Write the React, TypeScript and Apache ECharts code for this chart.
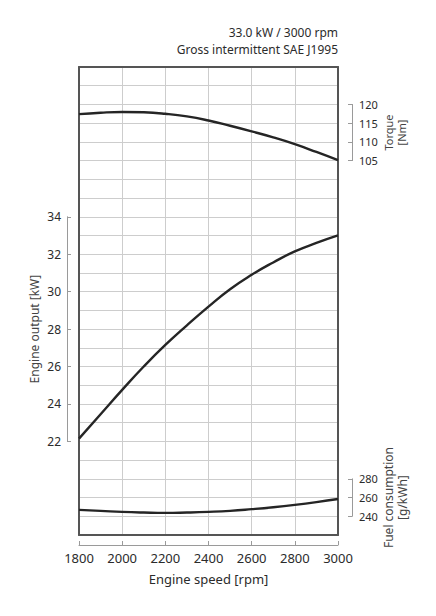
import React, { useEffect, useRef } from "react";
import * as echarts from "echarts";

const rpm = [1800, 1900, 2000, 2100, 2200, 2300, 2400, 2500, 2600, 2700, 2800, 2900, 3000];
const outputKW = [22.15, 23.45, 24.75, 26.0, 27.15, 28.2, 29.2, 30.13, 30.9, 31.56, 32.15, 32.6, 33.0];
const torqueNm = [117.4, 117.8, 118.0, 117.9, 117.5, 116.8, 115.7, 114.3, 112.8, 111.2, 109.4, 107.3, 105.1];
const fuelGkWh = [246.8, 245.8, 244.7, 244.0, 243.6, 244.0, 244.7, 245.8, 247.6, 249.7, 252.2, 255.1, 258.4];

const titleLines = ["33.0 kW / 3000 rpm", "Gross intermittent SAE J1995"];
const xTicks = { min: 1800, max: 3000, step: 200 };
const kwScale = { min: 17, max: 42, step: 1, labelMin: 22, labelMax: 34, labelStep: 2 };
const torqueScale = { min: 5, max: 130, step: 5, labelMin: 105, labelMax: 120, labelStep: 5 };
const fuelScale = { min: 220, max: 720, step: 20, labelMin: 240, labelMax: 280, labelStep: 20 };

const FONT = "Noto Sans";
const TXT = "#2b2b2b";
const LIGHT = "#9a9a9a";
const GRIDC = "#cdcdcd";
const FRAME = "#555";

export default function App() {
  const ref = useRef<HTMLDivElement>(null);
  useEffect(() => {
    if (!ref.current) return;
    const chart = echarts.init(ref.current, null, { renderer: "svg" });
    const gLeft = 79, gTop = 67, gW = 259, gH = 468;
    const steps = (kwScale.max - kwScale.min) / kwScale.step;
    const stepPx = gH / steps;
    const bracket = (s: any) => ({
      top: gTop + ((s.max - s.labelMax) / s.step) * stepPx,
      height: ((s.labelMax - s.labelMin) / s.step) * stepPx,
    });
    const kwB = bracket(kwScale);
    const tqB = bracket(torqueScale);
    const fuB = bracket(fuelScale);
    const hiddenX = (gi: number) => ({ type: "value", gridIndex: gi, show: false, min: 0, max: 1 });
    const frameX = (pos: string) => ({
      type: "value",
      gridIndex: 0,
      position: pos,
      offset: 0,
      min: xTicks.min,
      max: xTicks.max,
      interval: xTicks.step,
      axisLine: { show: true, lineStyle: { color: FRAME, width: 2 } },
      axisTick: { show: false },
      axisLabel: { show: false },
      splitLine: { show: false },
    });
    const bracketAxis = (gi: number, s: any, pos: string, fs: number, name: string, nameGap: number, nameFs: number) => ({
      type: "value",
      gridIndex: gi,
      position: pos,
      min: s.labelMin,
      max: s.labelMax,
      interval: s.labelStep,
      axisLine: { show: true, lineStyle: { color: LIGHT, width: 1 } },
      axisTick: { show: true, inside: true, length: 4, lineStyle: { color: LIGHT } },
      splitLine: { show: false },
      axisLabel: { color: TXT, fontSize: fs, fontFamily: FONT, margin: 6 },
      name,
      nameLocation: "middle",
      nameRotate: 90,
      nameGap,
      nameTextStyle: { color: "#444", fontSize: nameFs, fontFamily: FONT, lineHeight: nameFs + 2 },
    });
    const lineSeries = (yi: number, vals: number[]) => ({
      type: "line",
      xAxisIndex: 0,
      yAxisIndex: yi,
      data: rpm.map((r, i) => [r, vals[i]]),
      smooth: true,
      showSymbol: false,
      z: 5,
      lineStyle: { color: "#252525", width: 2.4 },
    });
    chart.setOption({
      animation: false,
      title: [
        { text: titleLines[0], right: 98, top: 26, padding: 0, textStyle: { color: TXT, fontSize: 12, fontWeight: "normal", fontFamily: FONT } },
        { text: titleLines[1], right: 98, top: 43, padding: 0, textStyle: { color: TXT, fontSize: 12, fontWeight: "normal", fontFamily: FONT } },
      ],
      grid: [
        { left: gLeft, top: gTop, width: gW, height: gH, show: false },
        { left: 67, top: kwB.top, width: 1, height: kwB.height },
        { left: 352, top: tqB.top, width: 1, height: tqB.height },
        { left: 352, top: fuB.top, width: 1, height: fuB.height },
      ],
      xAxis: [
        {
          type: "value",
          gridIndex: 0,
          min: xTicks.min,
          max: xTicks.max,
          interval: xTicks.step,
          position: "bottom",
          offset: 10,
          axisLine: { show: true, lineStyle: { color: LIGHT, width: 1 } },
          axisTick: { show: true, inside: true, length: 4, lineStyle: { color: LIGHT } },
          splitLine: { show: true, lineStyle: { color: GRIDC, width: 1 } },
          axisLabel: { color: TXT, fontSize: 13, fontFamily: FONT, margin: 6, formatter: (v: number) => String(v) },
          name: "Engine speed [rpm]",
          nameLocation: "middle",
          nameGap: 27,
          nameTextStyle: { color: TXT, fontSize: 13, fontFamily: FONT },
        },
        hiddenX(1),
        hiddenX(2),
        hiddenX(3),
        frameX("top"),
        frameX("bottom"),
      ],
      yAxis: [
        {
          type: "value",
          gridIndex: 0,
          position: "left",
          min: kwScale.min,
          max: kwScale.max,
          interval: kwScale.step,
          axisLine: { show: true, lineStyle: { color: FRAME, width: 2 } },
          axisTick: { show: false },
          axisLabel: { show: false },
          splitLine: { show: true, lineStyle: { color: GRIDC, width: 1 } },
        },
        {
          type: "value",
          gridIndex: 0,
          position: "right",
          min: torqueScale.min,
          max: torqueScale.max,
          interval: torqueScale.step,
          axisLine: { show: true, lineStyle: { color: FRAME, width: 2 } },
          axisTick: { show: false },
          axisLabel: { show: false },
          splitLine: { show: false },
        },
        { type: "value", gridIndex: 0, position: "right", min: fuelScale.min, max: fuelScale.max, interval: fuelScale.step, show: false },
        bracketAxis(1, kwScale, "left", 12, "Engine output [kW]", 26, 12),
        bracketAxis(2, torqueScale, "right", 11, "Torque\n[Nm]", 25, 11),
        bracketAxis(3, fuelScale, "right", 11, "Fuel consumption\n[g/kWh]", 24, 12),
      ],
      series: [lineSeries(0, outputKW), lineSeries(1, torqueNm), lineSeries(2, fuelGkWh)],
    });
    return () => chart.dispose();
  }, []);
  return <div ref={ref} style={{ width: 436, height: 616, position: "absolute", left: 0, top: 0 }} />;
}
